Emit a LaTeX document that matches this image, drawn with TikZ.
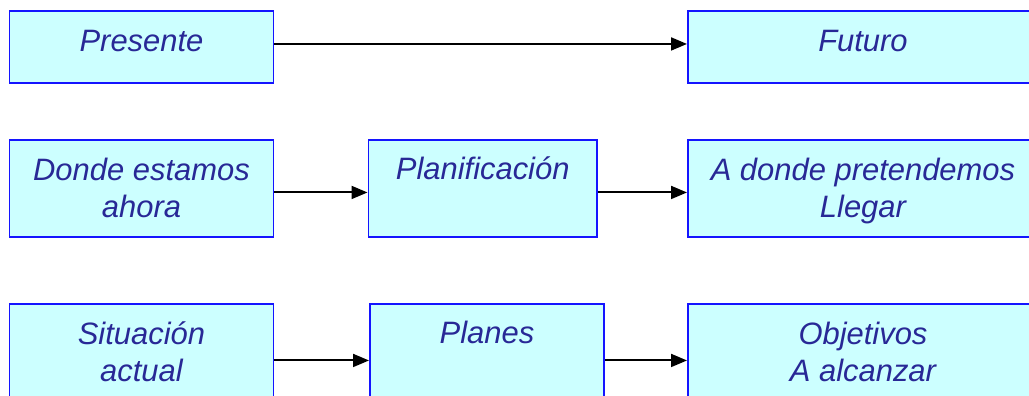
\documentclass[tikz,border=0pt]{standalone}
\usepackage{fontspec}
\setmainfont{Liberation Sans}
\usetikzlibrary{arrows.meta}
\definecolor{relleno}{RGB}{204,255,255}
\definecolor{borde}{RGB}{20,20,255}
\definecolor{letra}{RGB}{40,40,150}
\tikzset{
	caja/.style={draw=borde, line width=1.1pt, fill=relleno, anchor=north west, inner sep=0pt},
	texto/.style={anchor=base, align=center, inner sep=0pt, text=letra, font=\fontsize{17.6}{21.6}\selectfont\itshape},
	flecha/.style={line width=1.1pt, -{Triangle[length=0.32cm, width=0.26cm]}}
}

\begin{document}
\begin{tikzpicture}
			%%%%% START %%%%%
			
			\useasboundingbox (0, 0) rectangle (20.58, -7.92);
			\clip (0, 0) rectangle (20.58, -7.92);
			
			% fila 1
			\node[caja, minimum width=5.28cm, minimum height=1.44cm] (pres) at (0.17, -0.21) {};
			\node[caja, minimum width=7.0cm, minimum height=1.44cm] (fut) at (13.74, -0.21) {};
			\node[texto] (pres-t) at ([yshift=-0.82cm]pres.north) {Presente};
			\node[texto] (fut-t) at ([yshift=-0.82cm]fut.north) {Futuro};
			
			% fila 2 (base = ultima linea)
			\node[caja, minimum width=5.28cm, minimum height=1.94cm] (donde) at (0.17, -2.78) {};
			\node[caja, minimum width=4.57cm, minimum height=1.94cm] (plan) at (7.35, -2.78) {};
			\node[caja, minimum width=7.0cm, minimum height=1.94cm] (meta) at (13.74, -2.78) {};
			\node[texto] (donde-t) at ([yshift=-1.58cm]donde.north) {Donde estamos\\ahora};
			\node[texto] (plan-t) at ([yshift=-0.82cm]plan.north) {Planificación};
			\node[texto] (meta-t) at ([yshift=-1.58cm]meta.north) {A donde pretendemos\\Llegar};
			
			% fila 3
			\node[caja, minimum width=5.28cm, minimum height=2.26cm] (sit) at (0.17, -6.06) {};
			\node[caja, minimum width=4.68cm, minimum height=2.26cm] (planes) at (7.38, -6.06) {};
			\node[caja, minimum width=7.0cm, minimum height=2.26cm] (obj) at (13.74, -6.06) {};
			\node[texto] (sit-t) at ([yshift=-1.58cm]sit.north) {Situación\\actual};
			\node[texto] (planes-t) at ([yshift=-0.81cm]planes.north) {Planes};
			\node[texto] (obj-t) at ([yshift=-1.58cm]obj.north) {Objetivos\\A alcanzar};
			
			% flechas
			\draw[flecha] ([yshift=0.07cm]pres.east) -- ([yshift=0.07cm]fut.west);
			\draw[flecha] ([yshift=-0.08cm]donde.east) -- ([yshift=-0.08cm]plan.west);
			\draw[flecha] ([yshift=-0.08cm]plan.east) -- ([yshift=-0.08cm]meta.west);
			\draw[flecha] (sit.east) -- (planes.west);
			\draw[flecha] (planes.east) -- (obj.west);
			
			%%%%% END %%%%%
\end{tikzpicture}
\end{document}
